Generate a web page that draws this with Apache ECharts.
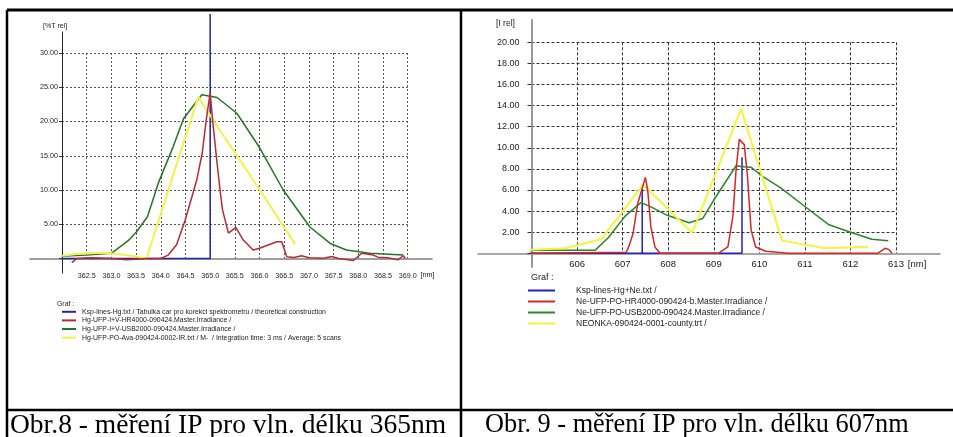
<!DOCTYPE html>
<html>
<head>
<meta charset="utf-8">
<script src="https://cdn.jsdelivr.net/npm/echarts@6/dist/echarts.min.js"></script>
<style>
html, body { margin: 0; padding: 0; background: #fff; }
#chart { width: 953px; height: 437px; }
</style>
</head>
<body>
<div id="chart"></div>
<script>
// Obr. 8 - Hg lines around 365 nm  [wavelength nm, %T rel]
var hgLines = [[361.35, 0], [365.0, 0], [365.0, 35.7]];
var hgHR4000 = [[362.2, -0.6], [362.3, 0], [362.6, 0.1], [363.0, 0], [363.3, -0.2], [363.5, -0.1], [363.7, 0], [364.0, 0],
  [364.15, 0.5], [364.32, 2.0], [364.49, 5.5], [364.73, 11.5], [364.84, 15.4], [364.92, 20.2], [365.0, 24.2], [365.05, 20.2],
  [365.14, 13.9], [365.2, 10.0], [365.25, 7.1], [365.37, 3.7], [365.52, 4.55], [365.67, 2.7], [365.87, 1.24], [366.0, 1.5],
  [366.35, 2.45], [366.45, 2.45], [366.55, 0.26], [366.7, 0.15], [366.85, 0.4], [367.0, 0.1], [367.3, 0.05], [367.46, 0.3],
  [367.6, 0.0], [367.9, -0.3], [368.07, 0.76], [368.3, 0.5], [368.4, 0.2], [368.6, 0.1], [368.8, -0.2], [368.91, 0.4], [368.95, 0]];
var hgUSB2000 = [[361.9, 0.3], [362.5, 0.5], [363.0, 0.76], [363.34, 2.6], [363.51, 3.9], [363.73, 6.1], [363.95, 11.0],
  [364.25, 16.3], [364.46, 20.4], [364.69, 22.6], [364.83, 23.9], [365.0, 23.7], [365.14, 23.5], [365.28, 22.7], [365.54, 21.2],
  [366.0, 16.2], [366.48, 10.0], [367.02, 4.6], [367.43, 2.2], [367.76, 1.24], [368.23, 0.76], [368.91, 0.5]];
var hgAva = [[361.72, 0], [362.0, 0.4], [362.3, 0.65], [362.8, 0.85], [363.2, 0.6], [363.5, 0.3], [363.71, 0],
  [364.76, 23.6], [365.06, 20.2], [365.45, 16.0], [366.07, 9.3], [366.72, 2.1]];

// Obr. 9 - Ne lines around 607 nm  [wavelength nm, I rel]
var neLines = [[603.82, 0], [607.43, 0], [607.43, 6.1], [607.43, 0], [609.62, 0], [609.62, 9.1]];
var neHR4000 = [[604.9, 0], [607.08, 0.1], [607.15, 0.8], [607.23, 1.9], [607.33, 4.7], [607.5, 7.2], [607.55, 6.0],
  [607.62, 2.5], [607.71, 0.6], [607.82, 0], [609.1, 0], [609.31, 0.6], [609.42, 3.5], [609.49, 7.9], [609.56, 10.8],
  [609.67, 10.3], [609.74, 7.3], [609.82, 2.2], [609.92, 0.6], [610.14, 0.2], [610.64, 0], [612.6, 0], [612.76, 0.47],
  [612.85, 0.35], [612.91, 0]];
var neUSB2000 = [[604.84, 0.47], [605.02, 0.3], [606.4, 0.3], [606.69, 1.5], [607.05, 3.5], [607.4, 4.8], [607.62, 4.4],
  [607.98, 3.6], [608.46, 2.9], [608.76, 3.3], [609.0, 5.05], [609.49, 8.3], [609.66, 8.2], [609.82, 8.15], [610.07, 7.3],
  [610.47, 6.2], [610.95, 4.6], [611.53, 2.7], [611.97, 2.05], [612.47, 1.33], [612.83, 1.2]];
var neonka = [[604.77, 0.3], [605.75, 0.47], [606.54, 1.36], [607.45, 6.5], [608.53, 1.95], [609.6, 13.7], [610.5, 1.2],
  [611.45, 0.47], [612.39, 0.63]];

var namesHg = ['Ksp-lines-Hg.txt / Tabulka car pro korekci spektrometru / theoretical construction',
  'Hg-UFP-I+V-HR4000-090424.Master.Irradiance /',
  'Hg-UFP-I+V-USB2000-090424.Master.Irradiance /',
  'Hg-UFP-PO-Ava-090424-0002-IR.txt / M-  / Integration time: 3 ms / Average: 5 scans'];
var namesNe = ['Ksp-lines-Hg+Ne.txt /',
  'Ne-UFP-PO-HR4000-090424-b.Master.Irradiance /',
  'Ne-UFP-PO-USB2000-090424.Master.Irradiance /',
  'NEONKA-090424-0001-county.trt /'];
var captions = ['Obr.8 - měření IP pro vln. délku 365nm', 'Obr. 9 - měření IP pro vln. délku 607nm'];

var sans = "'Liberation Sans', Arial, sans-serif";
var serif = "'Liberation Serif', 'Times New Roman', serif";

var myChart = echarts.init(document.getElementById('chart'));

function ln(x1, y1, x2, y2, w) {
  return { type: 'line', shape: { x1: x1, y1: y1, x2: x2, y2: y2 }, style: { stroke: '#000', lineWidth: w } };
}

function lineSeries(name, data, color, width, axis, z) {
  return {
    name: name, type: 'line', data: data, xAxisIndex: axis, yAxisIndex: axis,
    symbol: 'none', clip: false, z: z, color: color,
    lineStyle: { color: color, width: width }
  };
}

var hidden = { show: false };

var option = {
  animation: false,
  backgroundColor: '#fff',
  graphic: [
    ln(7, 10, 953, 10, 3),
    ln(7, 10, 7, 437, 2.5),
    ln(461, 10, 461, 437, 2.5),
    ln(7, 410, 953, 410, 2.5)
  ],
  title: [
    { text: '[%T rel]', left: 43, top: 23, padding: 0, textStyle: { fontFamily: sans, fontSize: 7, fontWeight: 'normal', color: '#222' } },
    { text: '[I rel]', left: 496, top: 19, padding: 0, textStyle: { fontFamily: sans, fontSize: 8.5, fontWeight: 'normal', color: '#222' } },
    { text: 'Graf :', left: 57, top: 300.5, padding: 0, textStyle: { fontFamily: sans, fontSize: 6.9, fontWeight: 'normal', color: '#222' } },
    { text: 'Graf :', left: 531, top: 273, padding: 0, textStyle: { fontFamily: sans, fontSize: 9, fontWeight: 'normal', color: '#222' } },
    { text: captions[0], left: 10, top: 412, padding: 0, textStyle: { fontFamily: serif, fontSize: 27.5, fontWeight: 'normal', color: '#000' } },
    { text: captions[1], left: 485, top: 412, padding: 0, textStyle: { fontFamily: serif, fontSize: 26.3, fontWeight: 'normal', color: '#000' } }
  ],
  legend: [
    {
      data: namesHg, orient: 'vertical', left: 62, top: 307.5, padding: 0, itemGap: 0,
      itemWidth: 14, itemHeight: 2, icon: 'rect', selectedMode: false,
      textStyle: { fontFamily: sans, fontSize: 6.9, lineHeight: 8.6, color: '#222', padding: [0, 0, 0, 1] }
    },
    {
      data: namesNe, orient: 'vertical', left: 528, top: 285, padding: 0, itemGap: 0,
      itemWidth: 27, itemHeight: 2, icon: 'rect', selectedMode: false,
      textStyle: { fontFamily: sans, fontSize: 8.5, lineHeight: 11, color: '#222', padding: [0, 0, 0, 16] }
    }
  ],
  grid: [
    { left: 62, top: 53, width: 345.7, height: 205.5, outerBoundsMode: 'none' },
    { left: 30, top: 53, width: 402, height: 205.5, outerBoundsMode: 'none' },
    { left: 62, top: 32, width: 1, height: 241, outerBoundsMode: 'none' },
    { left: 531.5, top: 42.3, width: 364.5, height: 211, outerBoundsMode: 'none' },
    { left: 478, top: 42.3, width: 462, height: 211, outerBoundsMode: 'none' },
    { left: 532, top: 20, width: 1, height: 247, outerBoundsMode: 'none' }
  ],
  xAxis: [
    {
      gridIndex: 0, type: 'value', min: 362, max: 369, interval: 0.5,
      axisLine: hidden, axisTick: hidden,
      axisLabel: {
        fontFamily: sans, fontSize: 7.2, color: '#222', margin: 14,
        formatter: function (v) { return v === 362 ? '' : v.toFixed(1); }
      },
      splitLine: { show: true, showMinLine: false, lineStyle: { color: '#555', type: [2, 2], width: 1 } },
      name: '[nm]', nameLocation: 'end', nameGap: 11,
      nameTextStyle: { fontFamily: sans, fontSize: 7.2, color: '#222', align: 'left', verticalAlign: 'top', padding: [13.5, 0, 0, 0] }
    },
    {
      gridIndex: 1, type: 'value', min: 0, max: 1,
      axisLine: { show: true, lineStyle: { color: '#808080', width: 1.5 } },
      axisTick: hidden, axisLabel: hidden, splitLine: hidden
    },
    { gridIndex: 2, type: 'value', min: 0, max: 1, show: false },
    {
      gridIndex: 3, type: 'value', min: 605, max: 613, interval: 1,
      axisLine: hidden, axisTick: hidden,
      axisLabel: {
        fontFamily: sans, fontSize: 9.5, color: '#222', margin: 6,
        formatter: function (v) { return v === 605 ? '' : String(v); }
      },
      splitLine: { show: true, showMinLine: false, lineStyle: { color: '#333', type: [3, 2], width: 1 } },
      name: '[nm]', nameLocation: 'end', nameGap: 6,
      nameTextStyle: { fontFamily: sans, fontSize: 9.5, color: '#222', align: 'left', verticalAlign: 'top', padding: [6.5, 0, 0, 0] }
    },
    {
      gridIndex: 4, type: 'value', min: 0, max: 1,
      axisLine: { show: true, lineStyle: { color: '#8a8a8a', width: 1.5 } },
      axisTick: hidden, axisLabel: hidden, splitLine: hidden
    },
    { gridIndex: 5, type: 'value', min: 0, max: 1, show: false }
  ],
  yAxis: [
    {
      gridIndex: 0, type: 'value', min: 0, max: 30, interval: 5,
      axisLine: hidden,
      axisTick: { show: true, inside: false, length: 3, lineStyle: { color: '#333' } },
      axisLabel: {
        fontFamily: sans, fontSize: 7.2, color: '#222', margin: 4,
        formatter: function (v) { return v === 0 ? '' : v.toFixed(2); }
      },
      splitLine: { show: true, showMinLine: false, lineStyle: { color: '#555', type: [2, 2], width: 1 } }
    },
    { gridIndex: 1, type: 'value', min: 0, max: 1, show: false },
    {
      gridIndex: 2, type: 'value', min: 0, max: 1,
      axisLine: { show: true, lineStyle: { color: '#222', width: 1 } },
      axisTick: hidden, axisLabel: hidden, splitLine: hidden
    },
    {
      gridIndex: 3, type: 'value', min: 0, max: 20, interval: 2,
      axisLine: hidden,
      axisTick: { show: true, inside: false, length: 4, lineStyle: { color: '#333' } },
      axisLabel: {
        fontFamily: sans, fontSize: 9, color: '#222', margin: 12,
        formatter: function (v) { return v === 0 ? '' : v.toFixed(2); }
      },
      splitLine: { show: true, showMinLine: false, lineStyle: { color: '#333', type: [3, 2], width: 1 } }
    },
    { gridIndex: 4, type: 'value', min: 0, max: 1, show: false },
    {
      gridIndex: 5, type: 'value', min: 0, max: 1,
      axisLine: { show: true, lineStyle: { color: '#999', width: 2 } },
      axisTick: hidden, axisLabel: hidden, splitLine: hidden
    }
  ],
  series: [
    lineSeries(namesHg[0], hgLines, '#2424a8', 1.5, 0, 3),
    lineSeries(namesHg[1], hgHR4000, '#b82a34', 1.5, 0, 6),
    lineSeries(namesHg[2], hgUSB2000, '#267526', 1.5, 0, 4),
    lineSeries(namesHg[3], hgAva, '#f2f24a', 2, 0, 5),
    lineSeries(namesNe[0], neLines, '#2222c8', 1.5, 3, 3),
    lineSeries(namesNe[1], neHR4000, '#d42828', 1.5, 3, 6),
    lineSeries(namesNe[2], neUSB2000, '#2b862b', 1.5, 3, 4),
    lineSeries(namesNe[3], neonka, '#f4f43c', 2, 3, 5)
  ]
};

myChart.setOption(option);
</script>
</body>
</html>
